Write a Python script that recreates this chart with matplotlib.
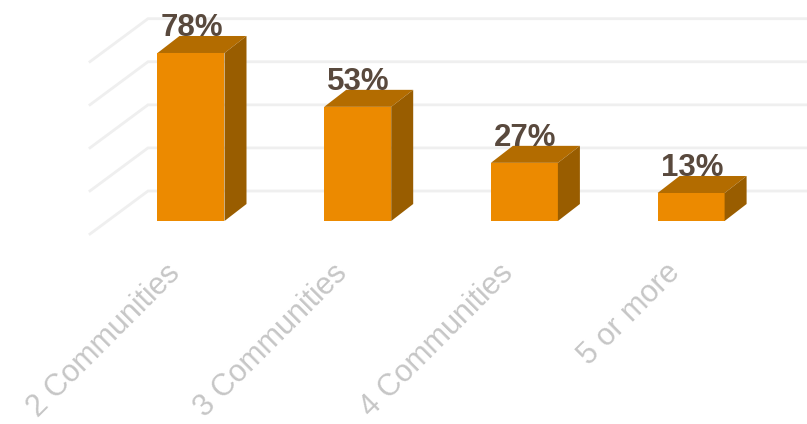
#3D style column chart of community counts

import matplotlib
matplotlib.use('Agg')
import matplotlib.pyplot as plt
from matplotlib.patches import Polygon

categories = ['2 Communities','3 Communities','4 Communities','5 or more']
percents = [78,53,27,13]
gridlevels = [0,20,40,60,80]

plt.rcParams['font.family'] = ['Liberation Sans','DejaVu Sans']

PxPerCat = 166.7
PxPerPct = 2.154

fig = plt.figure(figsize=(8.07,4.24),dpi=100)
ax = fig.add_axes([0,0,1,1])
ax.set_xlim(-191/PxPerCat,616/PxPerCat)
ax.set_ylim(-203/PxPerPct,221/PxPerPct)
ax.axis('off')

HalfWidth = 33.5/PxPerCat
DepthX = 22/PxPerCat
DepthY = 17/PxPerPct

#floor and back wall gridlines
BackX = -43/PxPerCat
FrontX = -101/PxPerCat
BackY = 30/PxPerPct
FrontY = -13/PxPerPct
for level in gridlevels:
	ax.plot([FrontX,BackX,4],[level+FrontY,level+BackY,level+BackY],color='#EFEFEF',lw=2,solid_joinstyle='miter',zorder=1)

for index in range(len(percents)):

	left = index-HalfWidth
	right = index+HalfWidth
	top = percents[index]

	ax.add_patch(Polygon([(left,0),(right,0),(right,top),(left,top)],fc='#EC8A00',ec='none',zorder=3))
	ax.add_patch(Polygon([(left,top),(right,top),(right+DepthX,top+DepthY),(left+DepthX,top+DepthY)],fc='#B36C00',ec='none',zorder=3))
	ax.add_patch(Polygon([(right,0),(right+DepthX,DepthY),(right+DepthX,top+DepthY),(right,top)],fc='#995D00',ec='none',zorder=3))

	ax.text(index+1/PxPerCat,top+DepthY-3.4,str(top)+'%',ha='center',va='bottom',fontsize=22.5,fontweight='bold',color='#59493D',zorder=4)
	ax.text(index-26/PxPerCat,-37/PxPerPct,categories[index],ha='right',va='top',rotation=45,rotation_mode='anchor',fontsize=22,color='#C6C6C6',zorder=4)

plt.savefig('out.png',dpi=100)
plt.close()
